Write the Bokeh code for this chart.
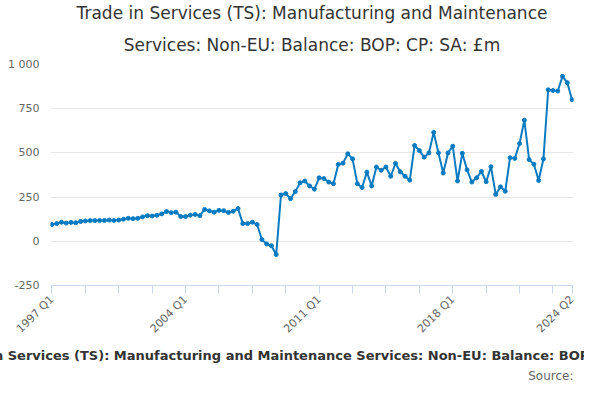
import math
from bokeh.plotting import figure
from bokeh.models import FixedTicker, Title, CustomJSTickFormatter
from bokeh.embed import file_html
from bokeh.resources import INLINE

start_year = 1997
values = [95,100,108,103,107,105,112,115,117,117,118,118,120,118,120,125,
          130,128,130,138,145,143,147,155,168,162,165,140,140,148,152,145,
          180,172,165,175,173,163,170,185,
          100,100,108,95,10,-15,-25,-75,
          262,270,241,281,331,341,313,295,359,355,335,326,435,442,495,466,
          326,304,391,313,420,402,420,368,440,393,368,346,542,513,476,500,
          616,500,386,500,538,341,498,404,335,359,395,337,422,265,308,283,
          473,469,553,685,462,436,344,466,857,853,850,933,897,801]
labels = [f"{start_year + i // 4} Q{i % 4 + 1}" for i in range(len(values))]
x = list(range(len(values)))
tick_idx = list(range(0, len(values), 7)) + [len(values) - 1]
label_idx = [0, 28, 56, 84, len(values) - 1]
y_ticks = [-250, 0, 250, 500, 750, 1000]
FONT = "DejaVu Sans"

p = figure(width=584, height=384, output_backend="svg", toolbar_location=None,
           x_range=(-0.3, len(values) - 0.7), y_range=(-250, 1000),
           min_border_left=50, min_border_right=11, min_border_top=0, min_border_bottom=0)
p.title = None
p.add_layout(Title(text="Services: Non-EU: Balance: BOP: CP: SA: £m", align="center",
                   text_font=FONT, text_font_size="17px", text_font_style="normal",
                   text_color="#333333", standoff=20, text_line_height=0.7), "above")
p.add_layout(Title(text="Trade in Services (TS): Manufacturing and Maintenance", align="center",
                   text_font=FONT, text_font_size="17px", text_font_style="normal",
                   text_color="#333333", standoff=0, text_line_height=0.7), "above")

p.line(x, values, line_color="#0a7bc1", line_width=2)
p.scatter(x, values, size=4, color="#0a7bc1")

p.xaxis.ticker = FixedTicker(ticks=tick_idx)
p.xaxis.major_label_overrides = {i: (labels[i] if i in label_idx else "") for i in tick_idx}
p.xaxis.major_label_orientation = math.pi / 4
p.xaxis.major_label_standoff = 4
p.xaxis.axis_line_color = "#ccd6eb"
p.xaxis.major_tick_line_color = "#ccd6eb"
p.xaxis.major_tick_in = 0
p.xaxis.major_tick_out = 8
p.xaxis.minor_tick_line_color = None
p.xaxis.major_label_text_color = "#666666"
p.xaxis.major_label_text_font = FONT
p.xaxis.major_label_text_font_size = "11px"

p.yaxis.ticker = FixedTicker(ticks=y_ticks)
p.yaxis.formatter = CustomJSTickFormatter(code="return Math.abs(tick) >= 1000 ? (tick/1000).toFixed(0) + ' ' + String(Math.abs(tick)%1000).padStart(3,'0') : tick.toString();")
p.yaxis.axis_line_color = None
p.yaxis.major_tick_line_color = None
p.yaxis.minor_tick_line_color = None
p.yaxis.major_label_text_color = "#666666"
p.yaxis.major_label_text_font = FONT
p.yaxis.major_label_text_font_size = "11px"

p.xgrid.grid_line_color = None
p.ygrid.grid_line_color = "#e6e6e6"
p.ygrid.ticker = FixedTicker(ticks=y_ticks)
p.outline_line_color = None

p.add_layout(Title(text="Trade in Services (TS): Manufacturing and Maintenance Services: Non-EU: Balance: BOP: CP: SA: £m",
                   align="center", text_font=FONT, text_font_size="13px", text_font_style="bold",
                   text_color="#333333", standoff=4), "below")
p.add_layout(Title(text="Source:", align="right", text_font=FONT, text_font_size="12px",
                   text_font_style="normal", text_color="#666666", standoff=4), "below")

open("out.html", "w").write(file_html(p, INLINE))
